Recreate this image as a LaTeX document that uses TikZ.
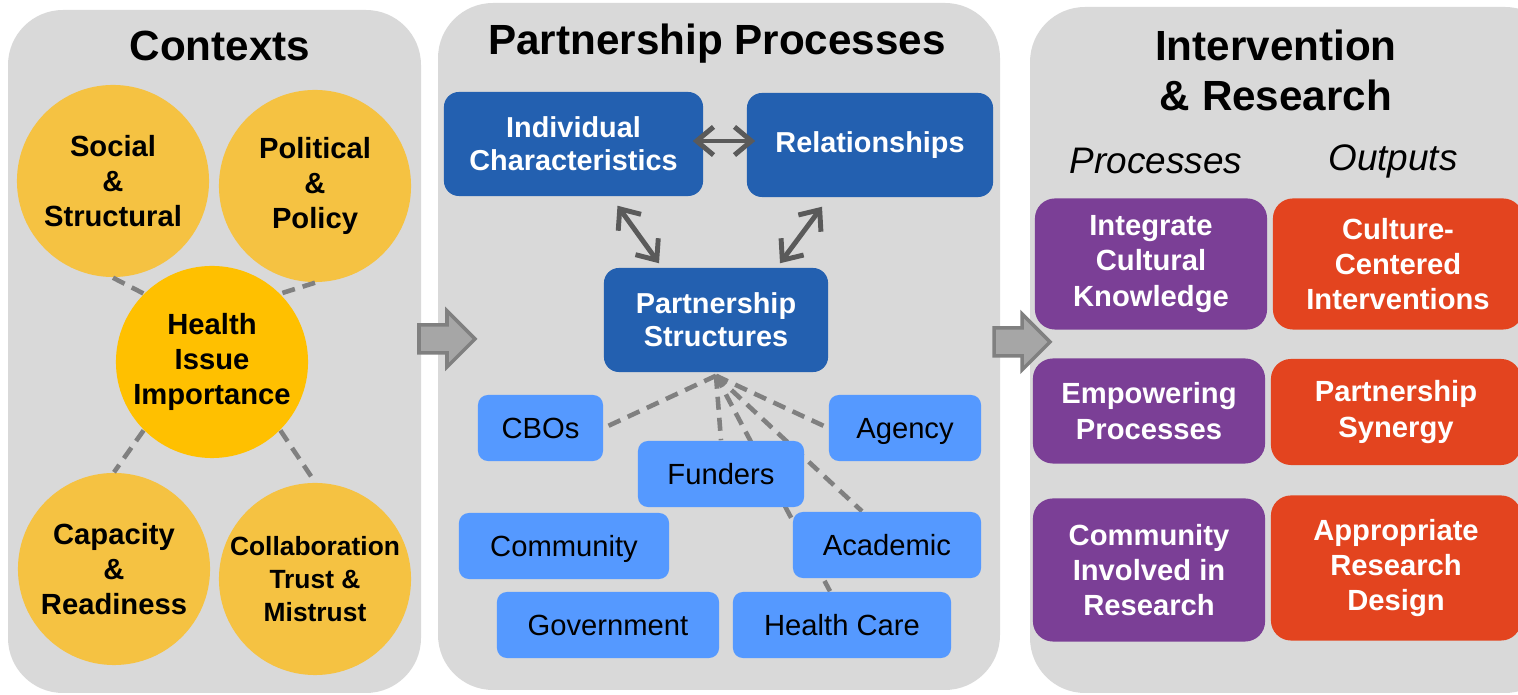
\documentclass[tikz,border=0pt]{standalone}
\usepackage{fontspec}
\setmainfont{Liberation Sans}
\usetikzlibrary{arrows.meta,calc}
\pgfdeclarelayer{background}
\pgfsetlayers{background,main}

\definecolor{panelgray}{HTML}{D9D9D9}
\definecolor{ctxgold}{HTML}{F5C242}
\definecolor{healthgold}{HTML}{FFC000}
\definecolor{darkblue}{HTML}{2360B0}
\definecolor{lightblue}{HTML}{5599FF}
\definecolor{procpurple}{HTML}{7B3F96}
\definecolor{outorange}{HTML}{E3441F}
\definecolor{arrowgray}{HTML}{5A5A5A}
\definecolor{dashgray}{HTML}{808080}

\newcommand{\bigarrow}[1]{%
  \draw[fill=black!35, draw=black!50, line width=1pt, shift={(#1)}]
    (0,-14) -- (28,-14) -- (28,-28) -- (56,0) -- (28,28) -- (28,14) -- (0,14) -- cycle;}

\begin{document}
\begin{tikzpicture}[x=0.01cm, y=-0.01cm]
\tikzstyle{panel} = [fill=panelgray, rounded corners=0.55cm]
\tikzstyle{title} = [align=center, font=\bfseries\fontsize{12}{14.2}\selectfont]
\tikzstyle{subhead} = [font=\itshape\fontsize{10.5}{12}\selectfont]
\tikzstyle{ctx} = [circle, fill=ctxgold, minimum size=1.92cm, inner sep=0pt, align=center,
  font=\bfseries\fontsize{8.3}{10}\selectfont]
\tikzstyle{darkbox} = [fill=darkblue, rounded corners=0.15cm, minimum height=1.04cm, align=center,
  text=white, font=\bfseries\fontsize{8.2}{9.4}\selectfont]
\tikzstyle{lightbox} = [fill=lightblue, rounded corners=0.1cm, minimum height=0.66cm,
  text height=6pt, text depth=0pt, font=\fontsize{8.3}{10}\selectfont]
\tikzstyle{procbox} = [fill=procpurple, rounded corners=0.2cm, minimum width=2.32cm, align=center,
  text=white, font=\bfseries\fontsize{8.3}{10}\selectfont]
\tikzstyle{outbox} = [fill=outorange, rounded corners=0.2cm, minimum width=2.5cm, align=center,
  text=white, font=\bfseries\fontsize{8.3}{10}\selectfont]
\tikzstyle{dblarrow} = [{Straight Barb[length=4.8pt,width=8pt]}-{Straight Barb[length=4.8pt,width=8pt]},
  draw=arrowgray, line width=1.4pt, line cap=round]
\tikzstyle{dashline} = [draw=dashgray, line width=1.3pt, dash pattern=on 3.7pt off 2.3pt]

\useasboundingbox (0,0) rectangle (1518,695);
\clip (0,0) rectangle (1518,695);

\begin{pgfonlayer}{background}
\fill[panel] (8,10) rectangle (421,693);
\fill[panel] (438,3) rectangle (1000,690);
\fill[panel] (1030,7) rectangle (1560,693);
\end{pgfonlayer}

% Contexts
\node[title] (ctxtitle) at (220,46) {Contexts};
\node[ctx] (social) at (113,181) {Social\\\&\\Structural};
\node[ctx] (political) at (315,186) {Political\\\&\\Policy};
\node[ctx, fill=healthgold] (health) at (212,362) {Health\\Issue\\Importance};
\node[ctx] (capacity) at (114,569) {Capacity\\\&\\Readiness};
\node[ctx, font=\bfseries\fontsize{7.5}{9.4}\selectfont] (collab) at (315,579) {Collaboration\\Trust \&\\Mistrust};
\draw[dashline] (social.south) -- (health.135);
\draw[dashline] (political.south) -- (health.45);
\draw[dashline] (health.225) -- (capacity.north);
\draw[dashline] (health.315) -- (collab.north);

\bigarrow{419,339}

% Partnership Processes
\node[title] (pptitle) at (717,44) {Partnership Processes};
\node[darkbox, minimum width=2.59cm] (indiv) at (573.5,144) {Individual\\Characteristics};
\node[darkbox, minimum width=2.46cm] (relat) at (870,145) {Relationships};
\node[darkbox, minimum width=2.24cm] (pstruct) at (716,320) {Partnership\\Structures};
\draw[dblarrow] ([xshift=-0.11cm,yshift=0.03cm]indiv.east) -- ([xshift=0.09cm,yshift=0.04cm]relat.west);
\draw[dblarrow] ($(indiv.south)+(44,9)$) -- ($(pstruct.north)+(-57,-4)$);
\draw[dblarrow] ($(relat.south)+(-48,9)$) -- ($(pstruct.north)+(64,-4)$);

\node[lightbox, minimum width=1.25cm] (cbos) at (540.5,428) {CBOs};
\node[lightbox, minimum width=1.52cm] (agency) at (905,428) {Agency};
\node[lightbox, minimum width=1.66cm] (funders) at (721,474) {Funders};
\node[lightbox, minimum width=2.10cm] (community) at (564,546) {Community};
\node[lightbox, minimum width=1.88cm] (academic) at (887,545) {Academic};
\node[lightbox, minimum width=2.22cm] (government) at (608,625) {Government};
\node[lightbox, minimum width=2.18cm] (healthcare) at (842,625) {Health Care};

\coordinate (hub) at ([yshift=-0.03cm]pstruct.south);
\begin{pgfonlayer}{background}
\draw[dashline] (hub) -- (cbos.east);
\draw[dashline] (hub) -- (agency.west);
\draw[dashline] (hub) -- (funders.north);
\draw[dashline] (hub) -- ([xshift=-0.25cm]academic.north);
\draw[dashline] (hub) -- ([xshift=-0.12cm]healthcare.north);
\end{pgfonlayer}

\bigarrow{994,342}

% Intervention & Research
\node[title] (irtitle) at (1276,70) {Intervention\\\& Research};
\node[subhead] (proc) at (1156,161) {Processes};
\node[subhead] (outp) at (1393,161) {Outputs};
\node[procbox, minimum height=1.31cm] (integrate) at (1151,264) {Integrate\\Cultural\\Knowledge};
\node[procbox, minimum height=1.05cm] (empower) at (1149,411) {Empowering\\Processes};
\node[procbox, minimum height=1.43cm] (involved) at (1149,570) {Community\\Involved in\\Research};
\node[outbox, minimum height=1.31cm] (culture) at (1398,264) {Culture-\\Centered\\Interventions};
\node[outbox, minimum height=1.06cm] (synergy) at (1396,412) {Partnership\\Synergy};
\node[outbox, minimum height=1.45cm] (design) at (1396,568) {Appropriate\\Research\\Design};
\end{tikzpicture}
\end{document}
